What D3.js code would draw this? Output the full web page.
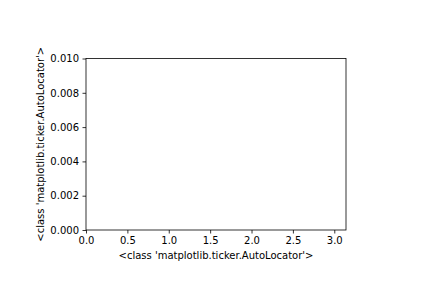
<!DOCTYPE html>
<head>
    <meta charset="utf-8">
    <style>
        body { margin: 0; background: #fff; }
        svg text { font-family: "DejaVu Sans", sans-serif; font-size: 10px; fill: #000; }
    </style>
</head>
<body>
    <svg id="chart" width="432" height="288"></svg>
    <script src="https://cdn.jsdelivr.net/npm/d3@7"></script>
    <script>
        // axis limits and ticks
        var xLimits = [0, Math.PI]
        var yLimits = [0, 0.010]
        var xTicks = [0.0, 0.5, 1.0, 1.5, 2.0, 2.5, 3.0]
        var yTicks = [0.000, 0.002, 0.004, 0.006, 0.008, 0.010]
        var xLabel = "<class 'matplotlib.ticker.AutoLocator'>"
        var yLabel = "<class 'matplotlib.ticker.AutoLocator'>"

        var margin = { top: 58.5, left: 86, right: 86, bottom: 58 }
        var width = 432 - margin.left - margin.right,
            height = 288 - margin.top - margin.bottom

        var svg = d3.select("#chart")
        var g = svg.append("g").attr("transform", `translate(${margin.left},${margin.top})`)

        var x = d3.scaleLinear().domain(xLimits).range([0, width])
        var y = d3.scaleLinear().domain(yLimits).range([height, 0])

        var xAxis = g.append("g")
            .attr("transform", `translate(0,${height})`)
            .call(d3.axisBottom(x).tickValues(xTicks).tickFormat(d3.format(".1f")).tickSize(3.5).tickPadding(3.5))
        var yAxis = g.append("g")
            .call(d3.axisLeft(y).tickValues(yTicks).tickFormat(d3.format(".3f")).tickSize(3.5).tickPadding(3.5))

        ;[xAxis, yAxis].forEach(a => {
            a.select(".domain").remove()
            a.selectAll("line").attr("stroke", "#000").attr("stroke-width", 0.8)
            a.selectAll("text").attr("font-size", 10).attr("font-family", "DejaVu Sans")
        })

        // frame
        g.append("rect")
            .attr("width", width).attr("height", height)
            .attr("fill", "none").attr("stroke", "#000").attr("stroke-width", 0.8)

        g.append("text")
            .attr("x", width / 2).attr("y", height + 28.5)
            .attr("text-anchor", "middle")
            .text(xLabel)

        g.append("text")
            .attr("transform", `translate(-42.5,${height / 2}) rotate(-90)`)
            .attr("text-anchor", "middle")
            .text(yLabel)
    </script>
</body>
